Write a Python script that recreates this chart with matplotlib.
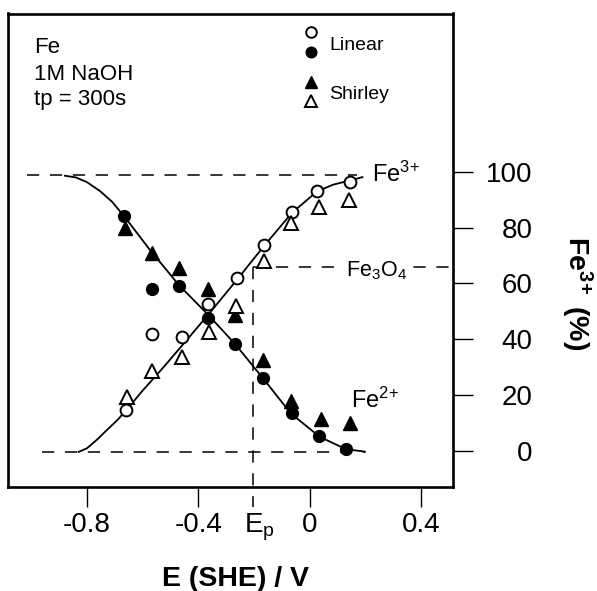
import matplotlib
matplotlib.use('Agg')
import matplotlib.pyplot as plt
from matplotlib.legend_handler import HandlerBase
from matplotlib.lines import Line2D
from matplotlib.transforms import ScaledTranslation

plt.rcParams['font.family'] = ['Liberation Sans', 'DejaVu Sans']
plt.rcParams['mathtext.default'] = 'regular'

# ---------------- data ----------------
# Linear background: open = Fe3+, filled = Fe2+
E_lin_open = [-0.66, -0.567, -0.457, -0.365, -0.262, -0.163, -0.064, 0.026, 0.147]
v_lin_open = [14.5, 41.8, 40.7, 52.6, 61.8, 73.8, 85.6, 93.3, 96.6]
E_lin_fill = [-0.665, -0.565, -0.469, -0.365, -0.268, -0.166, -0.064, 0.035, 0.13]
v_lin_fill = [84.3, 57.9, 59.2, 47.5, 38.3, 26.0, 13.4, 5.2, 0.5]
# Shirley background: filled = Fe2+, open = Fe3+
E_sh_fill = [-0.663, -0.567, -0.469, -0.364, -0.268, -0.168, -0.066, 0.041, 0.144]
v_sh_fill = [79.8, 70.8, 65.4, 57.9, 48.7, 32.5, 17.8, 11.2, 10.0]
E_sh_open = [-0.657, -0.565, -0.457, -0.36, -0.265, -0.165, -0.068, 0.033, 0.142]
v_sh_open = [19.1, 28.7, 33.7, 42.7, 51.9, 68.0, 81.8, 87.6, 90.0]

# guide curves drawn through the points
E_fe3_curve = [-0.83, -0.80, -0.765, -0.73, -0.69, -0.65, -0.60, -0.526, -0.466,
               -0.364, -0.262, -0.166, -0.064, 0.026, 0.085, 0.145, 0.19]
v_fe3_curve = [-0.5, 0.8, 3.8, 7.2, 11.0, 15.5, 21.5, 29.8, 36.8,
               48.8, 61.2, 73.2, 85.3, 93.0, 95.5, 97.0, 98.2]
E_fe2_curve = [-0.879, -0.84, -0.80, -0.753, -0.71, -0.665, -0.573, -0.47, -0.364,
               -0.268, -0.166, -0.068, 0.035, 0.13, 0.199]
v_fe2_curve = [98.7, 98.1, 96.4, 93.2, 89.4, 84.0, 72.0, 59.5, 48.7,
               38.3, 25.8, 13.4, 5.0, 0.5, -0.4]

# reference levels
fe3_level = 99.0
fe3_line_E = [-1.016, 0.17]
zero_level = -0.6
zero_line_E = [-0.963, 0.2]
fe3o4_level = 66.0
Ep = -0.204
Ep_line_bottom = -20.3

x_ticks = [-0.8, -0.4, Ep, 0.0, 0.4]
x_ticklabels = ['-0.8', '-0.4', '$E_p$', '0', '0.4']
y_ticks = [0, 20, 40, 60, 80, 100]

# ---------------- figure ----------------
W, H = 597, 591
fig = plt.figure(figsize=(W / 100, H / 100), dpi=100)
ax = fig.add_axes([8.3 / W, 1 - 487 / H, (452.7 - 8.3) / W, (487 - 13.5) / H])
ax.set_xlim(-1.0825, 0.5143)
ax.set_ylim(-13.1, 156.97)

for s in ax.spines.values():
    s.set_linewidth(1.9)

dash_kw = dict(color='black', lw=1.1, dashes=(8, 7))
ax.plot(fe3_line_E, [fe3_level, fe3_level], **dash_kw)
ax.plot(zero_line_E, [zero_level, zero_level], **dash_kw)
ax.plot([Ep, 0.5143], [fe3o4_level, fe3o4_level], **dash_kw)
ax.plot([Ep, Ep], [fe3o4_level, Ep_line_bottom], clip_on=False, **dash_kw)

ax.plot(E_fe3_curve, v_fe3_curve, color='black', lw=1.3)
ax.plot(E_fe2_curve, v_fe2_curve, color='black', lw=1.3)

ms_c, ms_t = 8.5, 9.5
h_lo, = ax.plot(E_lin_open, v_lin_open, ls='none', marker='o', ms=ms_c, mfc='white', mec='black', mew=1.4)
h_lf, = ax.plot(E_lin_fill, v_lin_fill, ls='none', marker='o', ms=ms_c, mfc='black', mec='black', mew=1.0)
h_sf, = ax.plot(E_sh_fill, v_sh_fill, ls='none', marker='^', ms=ms_t, mfc='black', mec='black', mew=1.0)
h_so, = ax.plot(E_sh_open, v_sh_open, ls='none', marker='^', ms=ms_t, mfc='white', mec='black', mew=1.4)

# ticks
ax.set_xticks(x_ticks)
ax.set_xticklabels(x_ticklabels)
ax.tick_params(axis='x', direction='out', length=14.4, width=1.0, pad=3.5, labelsize=20)
ep_tick = ax.xaxis.get_major_ticks()[2]
ep_tick.tick1line.set_visible(False)
ep_tick.label1.set_transform(ep_tick.label1.get_transform()
                             + ScaledTranslation(0.065, 0, fig.dpi_scale_trans))
ax.yaxis.tick_right()
ax.set_yticks(y_ticks)
ax.tick_params(axis='y', direction='out', length=14.4, width=1.0, pad=43, labelsize=20)
for lab in ax.get_yticklabels():
    lab.set_horizontalalignment('right')

# annotations
ax.text(-0.989, 142.8, 'Fe', fontsize=16)
ax.text(-0.989, 133.1, '1M NaOH', fontsize=16)
ax.text(-0.989, 124.1, 'tp = 300s', fontsize=16)
ax.text(0.223, 96.5, r'Fe$^{3\!+}$', fontsize=17)
ax.text(0.148, 15.2, r'Fe$^{2\!+}$', fontsize=17)
ax.text(0.131, 62.4, 'Fe$_3$O$_4$', fontsize=15.5,
        bbox=dict(facecolor='white', edgecolor='none', pad=3))

fig.text(236 / W, 1 - 586 / H, 'E (SHE) / V', fontsize=20.5, fontweight='bold',
         ha='center', va='baseline')
fig.text(577 / W, 1 - 293 / H, r'Fe$^{3\!+}$ (%)', fontsize=20.5, fontweight='bold',
         rotation=270, ha='center', va='center')


class VPairHandler(HandlerBase):
    def create_artists(self, legend, orig_handle, xdescent, ydescent, width, height,
                       fontsize, trans):
        top, bottom = orig_handle
        cx = width / 2 - xdescent
        cy = (height - ydescent) / 2
        arts = []
        for h, y in ((top, cy + 0.5 * fontsize), (bottom, cy - 0.5 * fontsize)):
            ln = Line2D([cx], [y], ls='none', marker=h.get_marker(),
                        ms=h.get_markersize() * 0.9, mfc=h.get_markerfacecolor(),
                        mec=h.get_markeredgecolor(), mew=h.get_markeredgewidth(),
                        transform=trans)
            arts.append(ln)
        return arts


leg = ax.legend([(h_lo, h_lf), (h_sf, h_so)], ['Linear', 'Shirley'],
                handler_map={tuple: VPairHandler()}, frameon=False,
                fontsize=14, handlelength=1.0, handleheight=1.0, handletextpad=0.45,
                labelspacing=1.55, borderpad=0, borderaxespad=0,
                loc='upper left', bbox_to_anchor=(301 / W, 1 - 34.3 / H),
                bbox_transform=fig.transFigure)

fig.savefig('out.png', dpi=100)
